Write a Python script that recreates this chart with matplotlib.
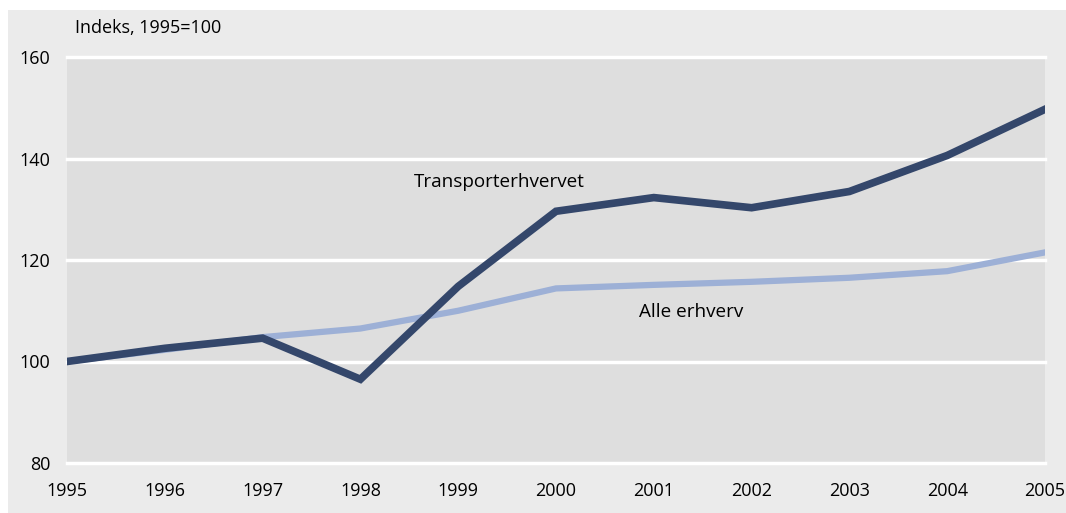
import matplotlib
matplotlib.use("Agg")
import matplotlib.pyplot as plt
from matplotlib.patches import Rectangle

years = [1995, 1996, 1997, 1998, 1999, 2000, 2001, 2002, 2003, 2004, 2005]
transport = [100, 102.6, 104.6, 96.5, 114.8, 129.6, 132.3, 130.3, 133.5, 140.6, 149.7]
alle = [100, 102.3, 104.8, 106.5, 110.0, 114.4, 115.1, 115.7, 116.5, 117.8, 121.5]
yticks = [80, 100, 120, 140, 160]

plt.rcParams['font.family'] = ['Open Sans', 'DejaVu Sans']
FS = 13.0

W, H = 1066, 513
fig = plt.figure(figsize=(W/100, H/100), dpi=100, facecolor='white')
fig.patches.append(Rectangle((8/W, 0), 1 - 8/W, 1 - 10/H, transform=fig.transFigure,
                             facecolor='#ebebeb', edgecolor='none', zorder=-10))
ax = fig.add_axes([67/W, 1 - 463/H, (1045-67)/W, (463-57)/H])
ax.set_zorder(1)
ax.set_facecolor('#dedede')
for s in ax.spines.values():
    s.set_visible(False)
ax.set_xlim(1995, 2005)
ax.set_ylim(80, 160)
ax.set_yticks(yticks)
ax.set_xticks(years)
ax.set_xticklabels([str(y) for y in years])
ax.tick_params(length=0, labelsize=FS)
ax.tick_params(axis='y', pad=12)
ax.tick_params(axis='x', pad=14)
for y in yticks:
    ax.axhline(y, color='white', lw=2.5, zorder=1, clip_on=False)
ax.plot(years, alle, color='#9db0d6', lw=4.5, zorder=2, solid_joinstyle='miter')
ax.plot(years, transport, color='#34476b', lw=5.5, zorder=3, solid_joinstyle='miter')
ax.text(1998.55, 135.3, 'Transporterhvervet', fontsize=13.6, ha='left', va='center')
ax.text(2000.85, 109.8, 'Alle erhverv', fontsize=13.6, ha='left', va='center')
fig.text(75/W, 1 - 28/H, 'Indeks, 1995=100', fontsize=FS, ha='left', va='center')
fig.savefig('out.png', dpi=100, facecolor='white')
